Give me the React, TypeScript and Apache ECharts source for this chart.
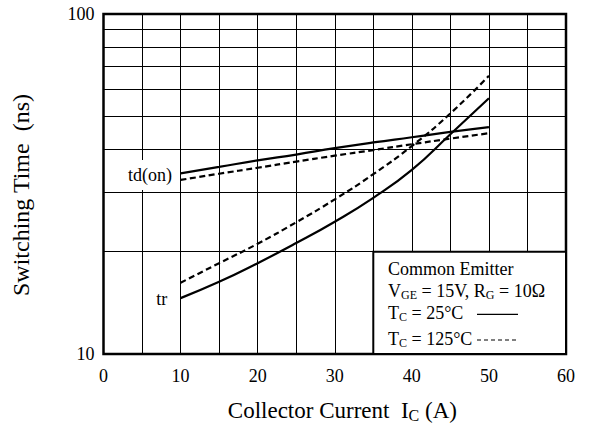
import React, { useEffect, useRef } from 'react';
import * as echarts from 'echarts';

// ---- data ----
const currents = [10, 15, 20, 25, 30, 35, 40, 45, 50];
const trTc25 = [14.6, 16.3, 18.5, 21.2, 24.5, 28.8, 34.8, 44.3, 56.5];
const trTc125 = [16.2, 18.5, 21.1, 24.4, 28.5, 33.8, 40.9, 51.0, 65.8];
const tdOnTc25 = [34.0, 35.5, 37.1, 38.6, 40.3, 41.9, 43.4, 45.0, 46.5];
const tdOnTc125 = [32.5, 33.9, 35.3, 36.8, 38.3, 39.8, 41.4, 43.0, 44.6];
const xTickLabels = [0, 10, 20, 30, 40, 50, 60];
const yMinorGrid = [20, 30, 40, 50, 60, 70, 80, 90];
const legendBox = { xFrom: 35, xTo: 60, yFrom: 10, yTo: 20 };

const FONT = "'Liberation Serif', 'Times New Roman', Times, serif";

const pairs = (ys: number[]) => currents.map((x, i) => [x, ys[i]]);

const legendRich = {
  n: { fontSize: 18, fontFamily: FONT, lineHeight: 20, fill: '#000' },
  s: { fontSize: 12, fontFamily: FONT, lineHeight: 9, verticalAlign: 'bottom', fill: '#000' },
};

const titleRich = {
  n: { fontSize: 23, fontFamily: FONT, lineHeight: 26, fill: '#000' },
  s: { fontSize: 16, fontFamily: FONT, lineHeight: 11, verticalAlign: 'bottom', fill: '#000' },
};

function legendText(text: string, x: number, y: number) {
  return {
    type: 'text',
    z: 100,
    style: { text, x, y, align: 'left', verticalAlign: 'middle', rich: legendRich, fill: '#000', fontFamily: FONT },
  };
}

export default function App() {
  const ref = useRef<HTMLDivElement>(null);

  useEffect(() => {
    if (!ref.current) return;
    const chart = echarts.init(ref.current, undefined, { renderer: 'svg' });

    const solid = { color: '#000', width: 2.2, type: 'solid' };
    const dashed = { color: '#000', width: 2.2, type: [6, 3.5] };

    const option: any = {
      animation: false,
      backgroundColor: '#fff',
      textStyle: { fontFamily: FONT },
      grid: {
        left: 103.5,
        top: 14,
        right: 25,
        bottom: 83,
        show: true,
        borderColor: '#000',
        borderWidth: 2.5,
        backgroundColor: 'transparent',
      },
      xAxis: {
        type: 'value',
        min: 0,
        max: 60,
        interval: 5,
        axisLine: { show: false },
        axisTick: { show: false },
        splitLine: { show: true, lineStyle: { color: '#000', width: 1 } },
        axisLabel: {
          formatter: (v: number) => (xTickLabels.includes(v) ? String(v) : ''),
          margin: 13,
          fontSize: 18,
          fontFamily: FONT,
          color: '#000',
        },
      },
      yAxis: {
        type: 'log',
        logBase: 10,
        min: 10,
        max: 100,
        axisLine: { show: false },
        axisTick: { show: false },
        splitLine: { show: false },
        axisLabel: { margin: 9, fontSize: 18, fontFamily: FONT, color: '#000' },
      },
      series: [
        {
          name: 'tr 25°C',
          type: 'line',
          data: pairs(trTc25),
          smooth: true,
          symbol: 'none',
          lineStyle: solid,
          silent: true,
          markLine: {
            silent: true,
            symbol: ['none', 'none'],
            label: { show: false },
            lineStyle: { color: '#000', width: 1, type: 'solid' },
            emphasis: { disabled: true },
            data: yMinorGrid.map((v) => ({ yAxis: v })),
          },
          markArea: {
            silent: true,
            itemStyle: { color: '#fff', borderColor: '#000', borderWidth: 2 },
            label: { show: false },
            emphasis: { disabled: true },
            data: [[
              { xAxis: legendBox.xFrom, yAxis: legendBox.yFrom },
              { xAxis: legendBox.xTo, yAxis: legendBox.yTo },
            ]],
          },
        },
        { name: 'tr 125°C', type: 'line', data: pairs(trTc125), smooth: true, symbol: 'none', lineStyle: dashed, silent: true },
        { name: 'td(on) 25°C', type: 'line', data: pairs(tdOnTc25), smooth: true, symbol: 'none', lineStyle: solid, silent: true },
        { name: 'td(on) 125°C', type: 'line', data: pairs(tdOnTc125), smooth: true, symbol: 'none', lineStyle: dashed, silent: true },
      ],
      graphic: [
        {
          type: 'text',
          z: 100,
          style: {
            text: 'td(on)',
            x: 150.5,
            y: 175,
            align: 'center',
            verticalAlign: 'middle',
            fontSize: 18,
            lineHeight: 18,
            fontFamily: FONT,
            fill: '#000',
            backgroundColor: '#fff',
            padding: [6, 4, 6, 3],
          },
        },
        {
          type: 'text',
          z: 100,
          style: {
            text: 'tr',
            x: 161.7,
            y: 298.5,
            align: 'center',
            verticalAlign: 'middle',
            fontSize: 18,
            fontFamily: FONT,
            fill: '#000',
          },
        },
        legendText('{n|Common Emitter}', 388, 269),
        legendText('{n|V}{s|GE}{n| = 15V, R}{s|G}{n| = 10Ω}', 388, 291),
        legendText('{n|T}{s|C}{n| = 25°C}', 388, 313),
        legendText('{n|T}{s|C}{n| = 125°C}', 388, 339),
        {
          type: 'line',
          z: 100,
          shape: { x1: 477, y1: 314.3, x2: 518, y2: 314.3 },
          style: { stroke: '#000', lineWidth: 1.2 },
        },
        {
          type: 'line',
          z: 100,
          shape: { x1: 477, y1: 340, x2: 518, y2: 340 },
          style: { stroke: '#000', lineWidth: 1.2, lineDash: [4, 3] },
        },
        {
          type: 'text',
          z: 100,
          style: {
            text: '{n|Collector Current  I}{s|C}{n| (A)}',
            x: 342.4,
            y: 410.5,
            align: 'center',
            verticalAlign: 'middle',
            rich: titleRich,
            fill: '#000',
            fontFamily: FONT,
          },
        },
        {
          type: 'text',
          z: 100,
          x: 20.5,
          y: 195,
          rotation: Math.PI / 2,
          style: {
            text: 'Switching Time  (ns)',
            x: 0,
            y: 0,
            align: 'center',
            verticalAlign: 'middle',
            fontSize: 24,
            fontFamily: FONT,
            fill: '#000',
          },
        },
      ],
    };

    chart.setOption(option);
    return () => chart.dispose();
  }, []);

  return (
    <div
      ref={ref}
      style={{ position: 'fixed', left: 0, top: 0, width: 591, height: 437, background: '#fff' }}
    />
  );
}
